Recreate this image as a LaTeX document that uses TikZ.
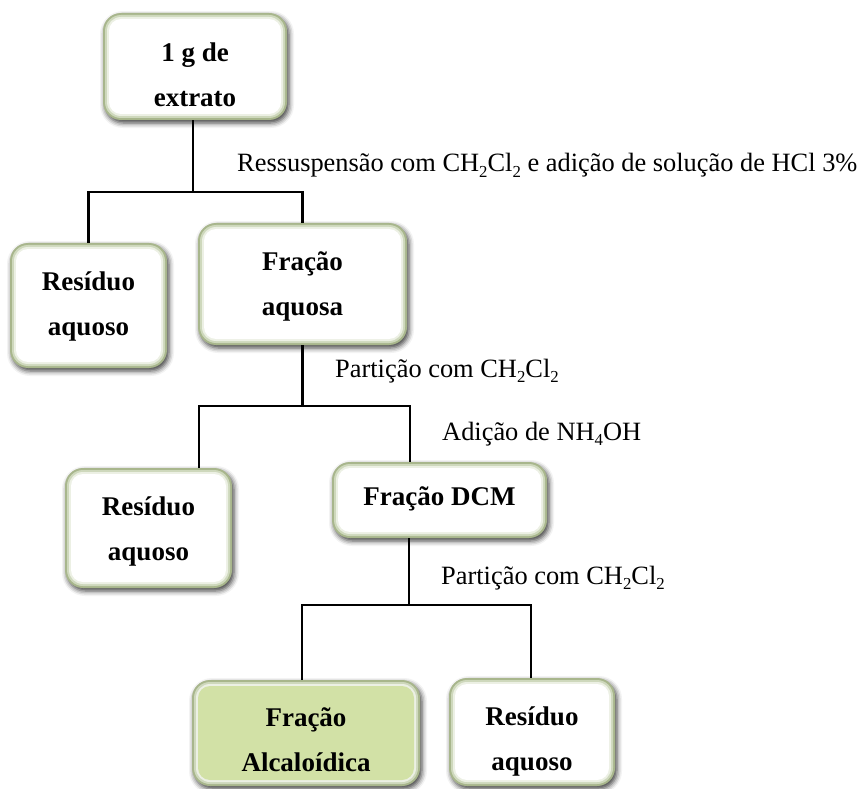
\documentclass[tikz,border=0pt]{standalone}
\usepackage{fontspec}
\setmainfont{Liberation Serif}
\usetikzlibrary{shadows.blur}

\definecolor{bevel}{RGB}{168,182,140}
\definecolor{bevelmid}{RGB}{206,216,188}
\definecolor{bevelin}{RGB}{236,240,228}
\definecolor{alkfill}{RGB}{210,225,166}

% chemical subscript
\newcommand\chsub[1]{\raisebox{-0.22em}{\fontsize{16.8}{16.8}\selectfont #1}}

\tikzset{
  stage/.style={draw=none, fill=bevel, rounded corners=18pt, inner sep=0pt,
    blur shadow={shadow xshift=2pt, shadow yshift=-3pt, shadow blur radius=5pt, shadow opacity=75},
    path picture={
      \fill[bevelmid, rounded corners=16pt]
        ([shift={(2pt,2pt)}]path picture bounding box.south west) rectangle
        ([shift={(-2pt,-2pt)}]path picture bounding box.north east);
      \fill[bevelin, rounded corners=14pt]
        ([shift={(4pt,4pt)}]path picture bounding box.south west) rectangle
        ([shift={(-4pt,-4pt)}]path picture bounding box.north east);
      \fill[#1, rounded corners=12pt]
        ([shift={(6pt,6pt)}]path picture bounding box.south west) rectangle
        ([shift={(-6pt,-6pt)}]path picture bounding box.north east);
    }},
  stage/.default=white,
  stagetext/.style={font=\fontsize{27}{45}\selectfont\bfseries, align=center, inner sep=0pt},
  note/.style={font=\fontsize{26.4}{32}\selectfont, inner sep=0pt},
  conn/.style={line width=2.2pt, black}
}

\begin{document}
\begin{tikzpicture}[x=1pt, y=-1pt]
\useasboundingbox (0,0) rectangle (863,789);

% boxes
\node[stage, minimum width=184pt, minimum height=107pt] (box1) at (195,66.5) {};
\node[stage, minimum width=157pt, minimum height=125pt] (res1) at (88.5,305.5) {};
\node[stage, minimum width=209pt, minimum height=122pt] (aq) at (302.5,284) {};
\node[stage, minimum width=167pt, minimum height=120pt] (res2) at (148.5,528) {};
\node[stage, minimum width=215pt, minimum height=76pt] (dcm) at (439.5,500) {};
\node[stage=alkfill, minimum width=228pt, minimum height=106pt] (alc) at (306,733) {};
\node[stage, minimum width=166pt, minimum height=108pt] (res3) at (532,732) {};

% box texts
\node[stagetext] (t1) at (195,75) {1 g de\\extrato};
\node[stagetext] (tr1) at (88.5,306) {Resíduo\\aquoso};
\node[stagetext] (taq) at (302.5,286) {Fração\\aquosa};
\node[stagetext] (tr2) at (148.5,531) {Resíduo\\aquoso};
\node[stagetext] (tdcm) at (439.5,499) {Fração DCM};
\node[stagetext] (talc) at (306,740) {Fração\\Alcaloídica};
\node[stagetext] (tr3) at (532,741) {Resíduo\\aquoso};

% step labels
\node[note, anchor=base west] (l1) at (237,172) {Ressuspensão com CH\chsub{2}Cl\chsub{2} e adição de solução de HCl 3\%};
\node[note, anchor=base west] (l2) at (335,377) {Partição com CH\chsub{2}Cl\chsub{2}};
\node[note, anchor=base west] (l3) at (442,440) {Adição de NH\chsub{4}OH};
\node[note, anchor=base west] (l4) at (441,584) {Partição com CH\chsub{2}Cl\chsub{2}};

% junction points
\coordinate (j1) at (193,192);
\coordinate (j2) at (302.5,406);
\coordinate (d2l) at (199,406);
\coordinate (d2r) at (410,406);
\coordinate (j3) at (409,605);
\coordinate (d3l) at (302,605);
\coordinate (d3r) at (531,605);

% connectors
\draw[conn] (box1.south -| j1) -- (j1);
\draw[conn] (res1.north) |- (j1) -| (aq.north);
\draw[conn] (aq.south) -- (j2);
\draw[conn] (d2l |- res2.north) -- (d2l) -- (d2r) -- (d2r |- dcm.north);
\draw[conn] (j3 |- dcm.south) -- (j3);
\draw[conn] (d3l |- alc.north) -- (d3l) -- (d3r) -- (d3r |- res3.north);
\end{tikzpicture}
\end{document}
